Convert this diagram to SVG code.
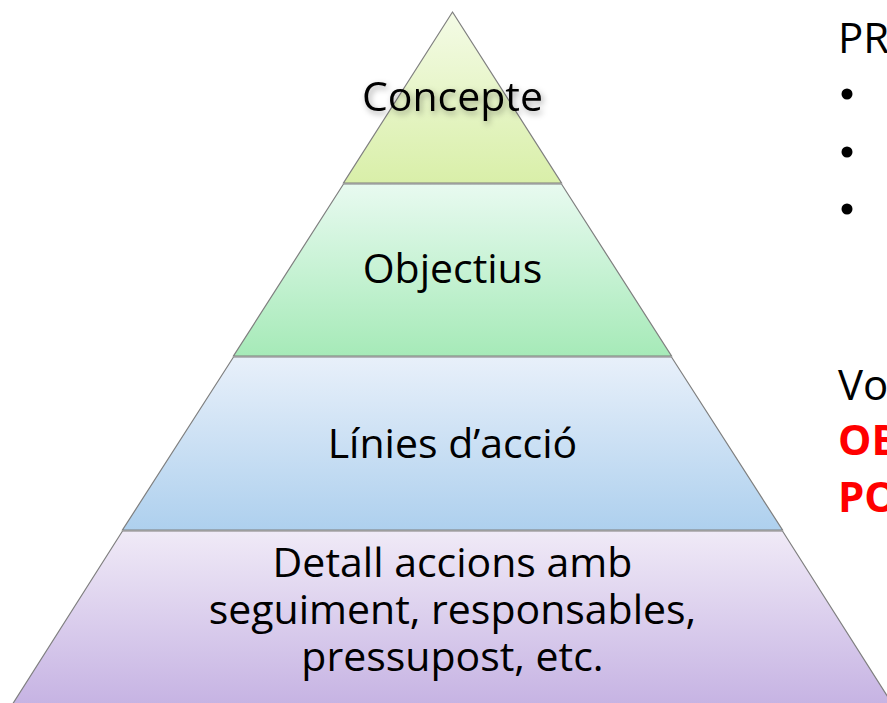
<svg xmlns="http://www.w3.org/2000/svg" width="887" height="703" viewBox="0 0 887 703">
<style>
.band{stroke:#7f7f7f;stroke-width:1.2}
.t{font-family:"Open Sans","Liberation Sans",sans-serif;font-size:41px;fill:#000;text-anchor:middle}
.r{font-family:"Open Sans","Liberation Sans",sans-serif;font-size:42px;fill:#000}
.red{fill:#ff0000;font-weight:bold}
</style>
<defs>
<linearGradient id="g1" x1="0" y1="0" x2="0" y2="1"><stop offset="0" stop-color="#f4fbe6"/><stop offset="1" stop-color="#d9efa9"/></linearGradient>
<linearGradient id="g2" x1="0" y1="0" x2="0" y2="1"><stop offset="0" stop-color="#e8faf0"/><stop offset="1" stop-color="#a6eab8"/></linearGradient>
<linearGradient id="g3" x1="0" y1="0" x2="0" y2="1"><stop offset="0" stop-color="#e8f0fa"/><stop offset="1" stop-color="#aed0ee"/></linearGradient>
<linearGradient id="g4" x1="0" y1="0" x2="0" y2="1"><stop offset="0" stop-color="#f0eaf7"/><stop offset="1" stop-color="#c6b3e3"/></linearGradient>
<filter id="sh" x="-10%" y="-30%" width="120%" height="160%"><feDropShadow dx="2" dy="3" stdDeviation="3" flood-color="#000" flood-opacity="0.35"/></filter>
</defs>
<g id="concepte">
<polygon class="band" fill="url(#g1)" points="452.5,12 561.5,183 343.5,183"/>
<text class="t" x="452.5" y="111" filter="url(#sh)">Concepte</text>
</g>
<g id="objectius">
<polygon class="band" fill="url(#g2)" points="343.5,184 561.5,184 671.5,356 233.5,356"/>
<text class="t" x="452.5" y="283">Objectius</text>
</g>
<g id="linies">
<polygon class="band" fill="url(#g3)" points="233.5,357 671.5,357 782.5,530 122.5,530"/>
<text class="t" x="452.5" y="458">Línies d’acció</text>
</g>
<g id="detall">
<polygon class="band" fill="url(#g4)" points="122.5,531 782.5,531 893,705 12,705"/>
<text class="t" x="452.5" y="577">Detall accions amb</text>
<text class="t" x="452.5" y="624">seguiment, responsables,</text>
<text class="t" x="452.5" y="671">pressupost, etc.</text>
</g>
<g id="connectors"></g>
<g id="side">
<text class="r" x="838" y="53">PR</text>
<circle cx="847" cy="94" r="5.5"/>
<circle cx="847" cy="152" r="5.5"/>
<circle cx="847" cy="209" r="5.5"/>
<text class="r" x="838" y="400">Vo</text>
<text class="r red" x="838" y="455">OB</text>
<text class="r red" x="838" y="512">PO</text>
</g>
</svg>
